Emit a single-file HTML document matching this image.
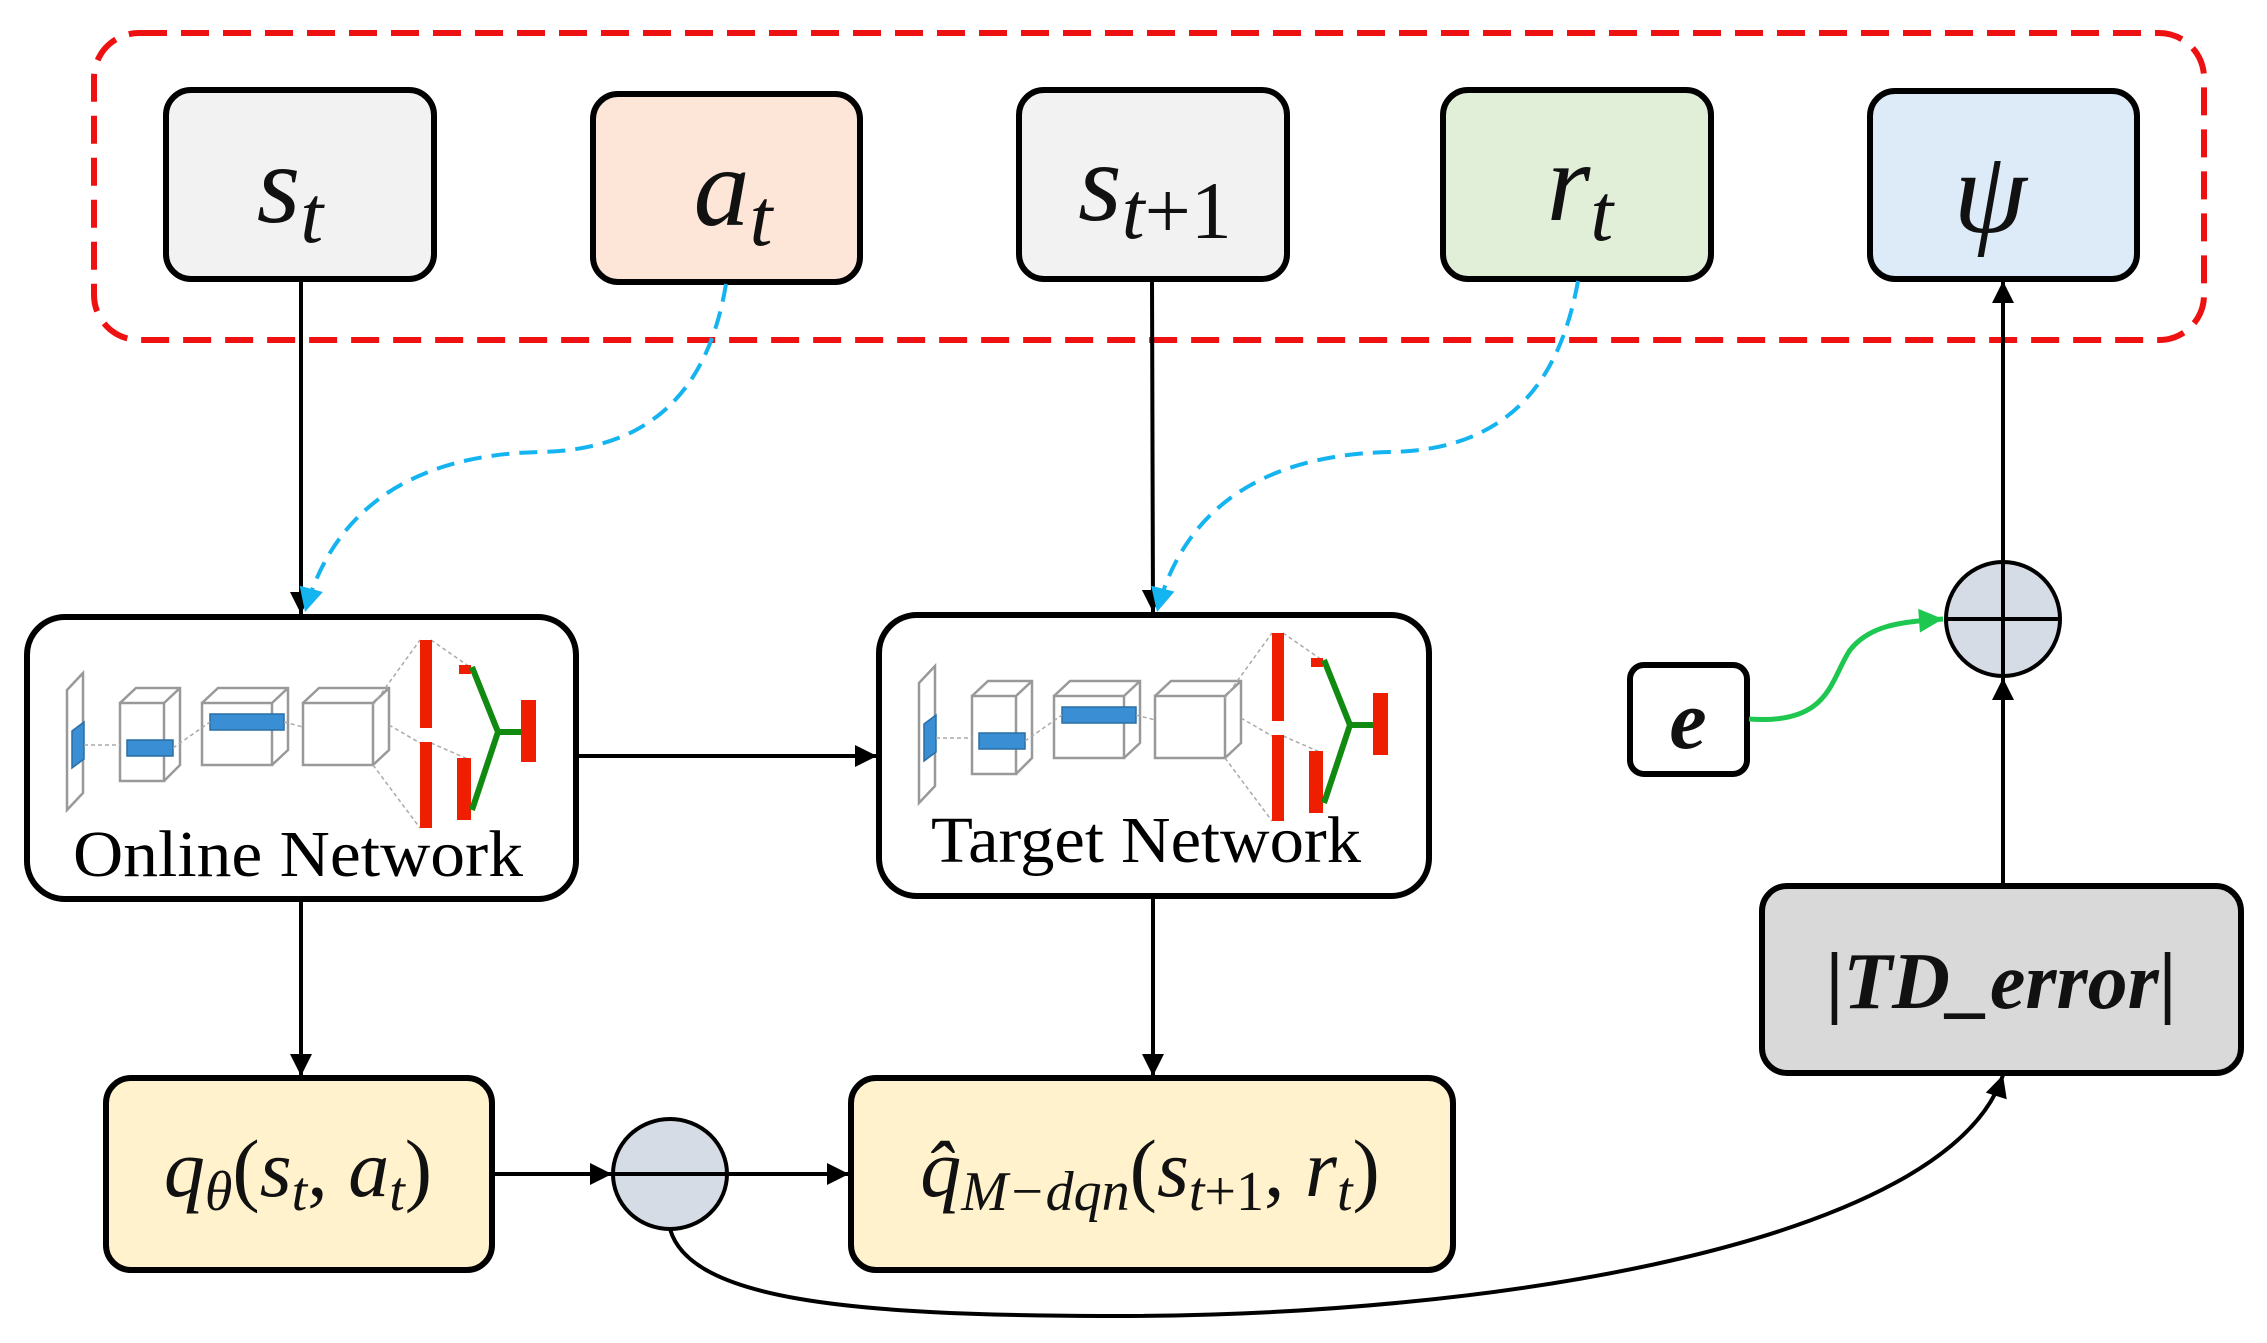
<!DOCTYPE html>
<html><head><meta charset="utf-8"><style>
html,body{margin:0;padding:0;background:#fff;}
</style></head><body>
<svg width="2267" height="1338" viewBox="0 0 2267 1338" xmlns="http://www.w3.org/2000/svg">
<defs>
<marker id="a" viewBox="0 0 10 10" refX="10" refY="5" markerWidth="30" markerHeight="22" markerUnits="userSpaceOnUse" orient="auto"><path d="M0,0 L10,5 L0,10 z" fill="#000"/></marker>
<marker id="ab" viewBox="0 0 10 10" refX="10" refY="5" markerWidth="30" markerHeight="24" markerUnits="userSpaceOnUse" orient="auto"><path d="M0,0 L10,5 L0,10 z" fill="#14b4f0"/></marker>
<marker id="ag" viewBox="0 0 10 10" refX="10" refY="5" markerWidth="34" markerHeight="24" markerUnits="userSpaceOnUse" orient="auto"><path d="M0,0 L10,5 L0,10 z" fill="#1ec850"/></marker>
<g id="net">
 <path d="M41,75 L57,58 L57,178 L41,195 Z" fill="#fff" stroke="#999" stroke-width="2.5"/>
 <path d="M46,116 L58,107 L58,144 L46,153 Z" fill="#3a8ed4" stroke="#2a6ea4" stroke-width="1.5"/>
 <rect x="94" y="88" width="44" height="78" fill="#fff" stroke="#999" stroke-width="2.5"/>
 <path d="M94,88 L110,73 L154,73 L154,150 L138,166 M138,88 L154,73" fill="none" stroke="#999" stroke-width="2.5"/>
 <rect x="101" y="125" width="46" height="16" fill="#3a8ed4" stroke="#2a6ea4" stroke-width="1.5"/>
 <rect x="176" y="88" width="70" height="62" fill="#fff" stroke="#999" stroke-width="2.5"/>
 <path d="M176,88 L192,73 L262,73 L262,135 L246,150 M246,88 L262,73" fill="none" stroke="#999" stroke-width="2.5"/>
 <rect x="184" y="99" width="74" height="16" fill="#3a8ed4" stroke="#2a6ea4" stroke-width="1.5"/>
 <rect x="277" y="88" width="70" height="62" fill="#fff" stroke="#999" stroke-width="2.5"/>
 <path d="M277,88 L293,73 L363,73 L363,135 L347,150 M347,88 L363,73" fill="none" stroke="#999" stroke-width="2.5"/>
 <path d="M58,130 L94,130 M147,133 L184,107 M258,107 L277,112 M347,90 L394,25 M347,150 L394,213 M363,110 L394,128 M405,25 L444,52 M405,128 L444,145" stroke="#aaa" stroke-width="1.5" fill="none" stroke-dasharray="4,3"/>
 <rect x="394" y="25" width="12" height="88" fill="#f01e00"/>
 <rect x="394" y="127" width="12" height="86" fill="#f01e00"/>
 <rect x="433" y="50" width="12" height="9" fill="#f01e00"/>
 <rect x="431" y="143" width="14" height="62" fill="#f01e00"/>
 <rect x="495" y="85" width="15" height="62" fill="#f01e00"/>
 <path d="M446,52 L472,117 L446,195 M472,117 L495,117" stroke="#118a11" stroke-width="6" fill="none"/>
</g>
</defs>

<rect x="94" y="33" width="2110" height="307" rx="45" fill="none" stroke="#ee1111" stroke-width="6" stroke-dasharray="28,14"/>

<g stroke="#000" stroke-width="6">
<rect x="166" y="90" width="268" height="189" rx="25" fill="#f2f2f2"/>
<rect x="593" y="94" width="267" height="188" rx="25" fill="#fde5d8"/>
<rect x="1019" y="90" width="268" height="189" rx="25" fill="#f2f2f2"/>
<rect x="1443" y="90" width="268" height="189" rx="25" fill="#e1efd9"/>
<rect x="1870" y="91" width="267" height="188" rx="25" fill="#dcebf7"/>
<rect x="27" y="617" width="549" height="282" rx="38" fill="#fff"/>
<rect x="879" y="615" width="550" height="281" rx="38" fill="#fff"/>
<rect x="106" y="1078" width="386" height="192" rx="25" fill="#fff2cc"/>
<rect x="851" y="1078" width="602" height="192" rx="25" fill="#fff2cc"/>
<rect x="1762" y="886" width="479" height="187" rx="25" fill="#d9d9d9"/>
<rect x="1630" y="665" width="117" height="109" rx="14" fill="#fff"/>
<ellipse cx="670" cy="1174" rx="57" ry="55" fill="#d6dce5" stroke-width="4"/>
<circle cx="2003" cy="619" r="57" fill="#d6dce5" stroke-width="4"/>
</g>
<line x1="613" y1="1174" x2="727" y2="1174" stroke="#000" stroke-width="4"/>
<line x1="1946" y1="619" x2="2060" y2="619" stroke="#000" stroke-width="4"/>
<line x1="2003" y1="562" x2="2003" y2="676" stroke="#000" stroke-width="4"/>

<use href="#net" x="26" y="615"/>
<use href="#net" x="878" y="608"/>

<g font-family="Liberation Serif, serif" font-style="italic" fill="#111">
<text x="290" y="222" font-size="112" text-anchor="middle">s<tspan font-size="82" dy="20">t</tspan></text>
<text x="733" y="225" font-size="112" text-anchor="middle">a<tspan font-size="82" dy="20">t</tspan></text>
<text x="1155" y="220" font-size="112" text-anchor="middle">s<tspan font-size="82" dy="18">t</tspan><tspan font-style="normal" font-size="82">+1</tspan></text>
<text x="1580" y="220" font-size="112" text-anchor="middle">r<tspan font-size="82" dy="20">t</tspan></text>
<text x="1990" y="232" font-size="118" text-anchor="middle">ψ</text>
<text x="1688" y="748" font-size="84" font-weight="bold" text-anchor="middle">e</text>
<text x="298" y="1196" font-size="82" text-anchor="middle">q<tspan font-size="56" dy="14">θ</tspan><tspan font-style="normal" dy="-14">(</tspan>s<tspan font-size="56" dy="14">t</tspan><tspan font-style="normal" dy="-14">, </tspan>a<tspan font-size="56" dy="14">t</tspan><tspan font-style="normal" dy="-14">)</tspan></text>
<text x="1150" y="1196" font-size="82" text-anchor="middle">q̂<tspan font-size="56" dy="14">M−dqn</tspan><tspan font-style="normal" dy="-14">(</tspan>s<tspan font-size="56" dy="14">t</tspan><tspan font-style="normal" font-size="56">+1</tspan><tspan font-style="normal" dy="-14">, </tspan>r<tspan font-size="56" dy="14">t</tspan><tspan font-style="normal" dy="-14">)</tspan></text>
<text x="2001" y="1008" font-size="80" font-weight="bold" text-anchor="middle"><tspan font-style="normal">|</tspan>TD_error<tspan font-style="normal">|</tspan></text>
</g>
<g font-family="Liberation Serif, serif" fill="#000" font-size="66" text-anchor="middle">
<text x="298" y="876" textLength="450" lengthAdjust="spacingAndGlyphs">Online Network</text>
<text x="1146" y="862" textLength="430" lengthAdjust="spacingAndGlyphs">Target Network</text>
</g>

<g stroke="#000" stroke-width="4" fill="none" marker-end="url(#a)">
<line x1="301" y1="281" x2="301" y2="614"/>
<line x1="1152" y1="281" x2="1153" y2="612"/>
<line x1="578" y1="756" x2="877" y2="756"/>
<line x1="301" y1="901" x2="301" y2="1076"/>
<line x1="1153" y1="898" x2="1153" y2="1076"/>
<line x1="494" y1="1174" x2="612" y2="1174"/>
<line x1="728" y1="1174" x2="849" y2="1174"/>
<path d="M670,1229 C690,1300 850,1315 1100,1316 C1500,1318 1950,1240 2003,1075"/>
<line x1="2003" y1="884" x2="2003" y2="678"/>
<line x1="2003" y1="561" x2="2003" y2="281"/>
</g>
<g stroke="#14b4f0" stroke-width="4" fill="none" stroke-dasharray="18,10">
<path d="M726,284 C710,380 660,450 540,452 C400,455 330,520 305,612" marker-end="url(#ab)"/>
<path d="M1578,281 C1560,380 1510,450 1390,452 C1250,455 1180,520 1157,612" marker-end="url(#ab)"/>
</g>
<path d="M1749,719 C1830,725 1830,680 1850,650 C1870,625 1900,622 1943,619" stroke="#1ec850" stroke-width="5" fill="none" marker-end="url(#ag)"/>
</svg>
</body></html>
